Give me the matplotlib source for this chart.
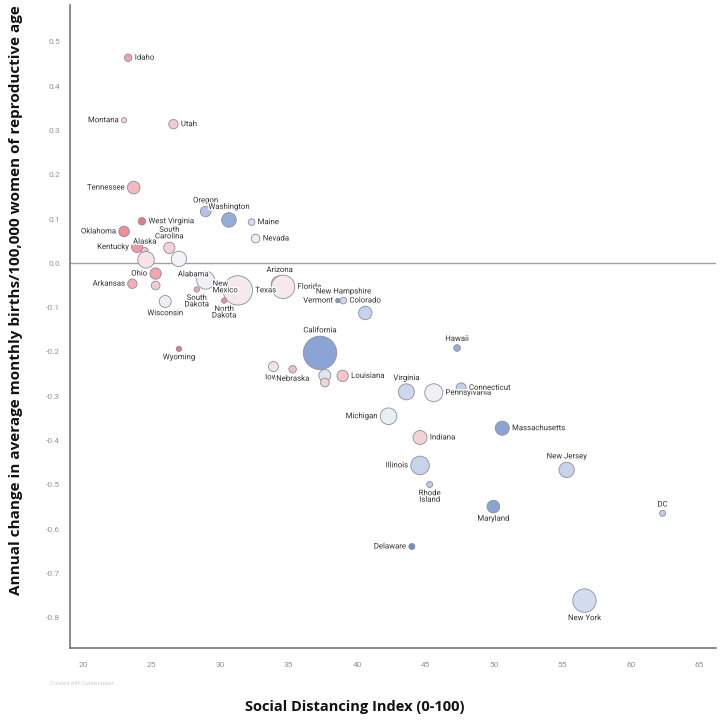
import numpy as np
import matplotlib
matplotlib.use("Agg")
import matplotlib.pyplot as plt
from matplotlib.colors import LinearSegmentedColormap
import matplotlib.patheffects as pe

# Dados
estados = ["Idaho", "Montana", "Utah", "Tennessee", "West Virginia", "Oklahoma",
           "Oregon", "Washington", "Maine", "Nevada", "Kentucky", "Alaska",
           "Missouri", "South Carolina", "Georgia", "Ohio", "Alabama", "Arkansas",
           "Wisconsin", "New Mexico", "South Dakota", "Texas", "North Dakota",
           "Arizona", "Florida", "Vermont", "New Hampshire", "Colorado",
           "California", "Wyoming", "Iowa", "Nebraska", "Minnesota", "Kansas",
           "Louisiana", "Hawaii", "Virginia", "Pennsylvania", "Connecticut",
           "Michigan", "Massachusetts", "Indiana", "Illinois", "Rhode Island",
           "Maryland", "Delaware", "New Jersey", "DC", "New York"]

indice_distanciamento = [23.3, 23.0, 26.6, 23.7, 24.3, 23.0,
                         28.95, 30.65, 32.3, 32.6, 23.95, 24.5,
                         24.6, 26.3, 27.0, 25.3, 25.3, 23.6,
                         26.0, 28.95, 28.3, 31.3, 30.3,
                         34.35, 34.6, 38.6, 39.0, 40.6,
                         37.3, 27.0, 33.9, 35.3, 37.65, 37.65,
                         38.95, 47.3, 43.6, 45.6, 47.6,
                         42.3, 50.6, 44.6, 44.6, 45.3,
                         49.95, 44.0, 55.3, 62.3, 56.6]

variacao_nascimentos = [0.464, 0.323, 0.314, 0.171, 0.095, 0.072,
                        0.117, 0.098, 0.093, 0.056, 0.037, 0.028,
                        0.008, 0.035, 0.010, -0.023, -0.050, -0.046,
                        -0.086, -0.038, -0.059, -0.061, -0.084,
                        -0.047, -0.053, -0.084, -0.084, -0.112,
                        -0.202, -0.193, -0.233, -0.239, -0.253, -0.269,
                        -0.254, -0.191, -0.290, -0.292, -0.281,
                        -0.345, -0.372, -0.393, -0.456, -0.499,
                        -0.549, -0.639, -0.466, -0.564, -0.761]

# tamanho da bolha (unidades arbitrárias)
peso = [14, 7, 22, 40, 14, 28,
        28, 53, 11, 19, 32, 12,
        69, 32, 59, 32, 19, 22,
        36, 81, 7, 216, 7,
        70, 137, 5, 11, 45,
        279, 7, 25, 14, 36, 19,
        32, 11, 64, 81, 25,
        69, 49, 49, 86, 9,
        40, 9, 59, 9, 137]

# cor: negativo = vermelho, positivo = azul
inclinacao = [-0.6, -0.3, -0.35, -0.5, -0.8, -0.7,
              0.55, 0.7, 0.3, 0.1, -0.65, -0.45,
              -0.15, -0.3, 0.02, -0.6, -0.35, -0.55,
              0.08, 0.05, -0.6, -0.1, -0.7,
              -0.1, -0.1, 0.85, 0.35, 0.4,
              0.75, -0.8, -0.15, -0.45, 0.2, -0.3,
              -0.4, 0.7, 0.35, 0.05, 0.45,
              0.1, 0.75, -0.3, 0.4, 0.5,
              0.75, 0.9, 0.4, 0.45, 0.3]

# posição dos rótulos
lado = {"Idaho": "r", "Montana": "l", "Utah": "r", "Tennessee": "l",
        "West Virginia": "r", "Oklahoma": "l", "Oregon": "t", "Washington": "t",
        "Maine": "r", "Nevada": "r", "Kentucky": "l", "Alaska": "t",
        "South Carolina": "t", "Ohio": "l", "Alabama": "x", "Arkansas": "l",
        "Wisconsin": "b", "New Mexico": "x", "South Dakota": "b", "Texas": "r",
        "North Dakota": "b", "Arizona": "t", "Florida": "r", "Vermont": "l",
        "New Hampshire": "t", "Colorado": "t", "California": "t", "Wyoming": "b",
        "Iowa": "b", "Nebraska": "b", "Louisiana": "r", "Hawaii": "t",
        "Virginia": "t", "Pennsylvania": "r", "Connecticut": "r", "Michigan": "l",
        "Massachusetts": "r", "Indiana": "r", "Illinois": "l",
        "Rhode Island": "b", "Maryland": "b", "Delaware": "l",
        "New Jersey": "t", "DC": "t", "New York": "b"}
texto = {"South Carolina": "South\nCarolina", "New Mexico": "New\nMexico",
         "South Dakota": "South\nDakota", "North Dakota": "North\nDakota",
         "Rhode Island": "Rhode\nIsland"}
desloc = {"Alabama": (16, 8, "left", "center"),
          "New Mexico": (5, -5, "left", "center")}

cmap = LinearSegmentedColormap.from_list(
    "rb", ["#e0525f", "#f4b9be", "#f7f5f7", "#bccbe8", "#5a80c4"])

plt.rcParams["font.family"] = ["Roboto", "DejaVu Sans"]

fig = plt.figure(figsize=(7.2, 7.2), dpi=100)
ax = fig.add_axes([70/720, 72/720, 646/720, 643/720])

tam = np.array(peso) * 2.07
cores = cmap((np.array(inclinacao) + 1) / 2)
ax.scatter(indice_distanciamento, variacao_nascimentos, s=tam, c=cores,
           edgecolors="#8a8e9e", linewidths=0.6, zorder=3)

ax.axhline(0, color="#a0a0a0", lw=1, zorder=1)

halo = [pe.withStroke(linewidth=2, foreground="white")]
for nome, x, y, s in zip(estados, indice_distanciamento, variacao_nascimentos, tam):
    if nome not in lado:
        continue
    r = np.sqrt(s) / 2 + 2
    p = lado[nome]
    if p == "r":
        dx, dy, ha, va = r, 0, "left", "center"
    elif p == "l":
        dx, dy, ha, va = -r, 0, "right", "center"
    elif p == "t":
        dx, dy, ha, va = 0, r, "center", "bottom"
    elif p == "b":
        dx, dy, ha, va = 0, -r, "center", "top"
    else:
        dx, dy, ha, va = desloc[nome]
    ax.annotate(texto.get(nome, nome), (x, y), xytext=(dx, dy),
                textcoords="offset points", ha=ha, va=va, fontsize=5.6,
                color="#333333", path_effects=halo, zorder=4,
                linespacing=1.1)

ax.set_xlim(19.05, 66.2)
ax.set_ylim(-0.868, 0.583)
ax.set_xticks(range(20, 66, 5))
ax.set_yticks(np.arange(-0.8, 0.51, 0.1))
ax.set_yticklabels(["%.1f" % v if abs(v) > 1e-9 else "0.0"
                    for v in np.arange(-0.8, 0.51, 0.1)])
ax.tick_params(length=0, labelsize=6, labelcolor="#949494")
ax.tick_params(axis="x", pad=10)
ax.tick_params(axis="y", pad=7)
for lado_eixo in ["top", "right"]:
    ax.spines[lado_eixo].set_visible(False)
for lado_eixo in ["left", "bottom"]:
    ax.spines[lado_eixo].set_color("#777777")
    ax.spines[lado_eixo].set_linewidth(1.2)

fig.text(16/720, 1 - 300/720,
         "Annual change in average monthly births/100,000 women of reproductive age",
         rotation=90, ha="center", va="center", fontsize=11, fontweight="bold",
         family=["Open Sans", "DejaVu Sans"], color="#111111")
fig.text(355/720, 1 - 707/720, "Social Distancing Index (0-100)",
         ha="center", va="center", fontsize=10.5, fontweight="bold",
         family=["Open Sans", "DejaVu Sans"], color="#111111")
fig.text(50/720, 1 - 683/720, "Created with Datawrapper", fontsize=4,
         color="#d0d0d0", va="center")

fig.savefig("out.png", dpi=100)
